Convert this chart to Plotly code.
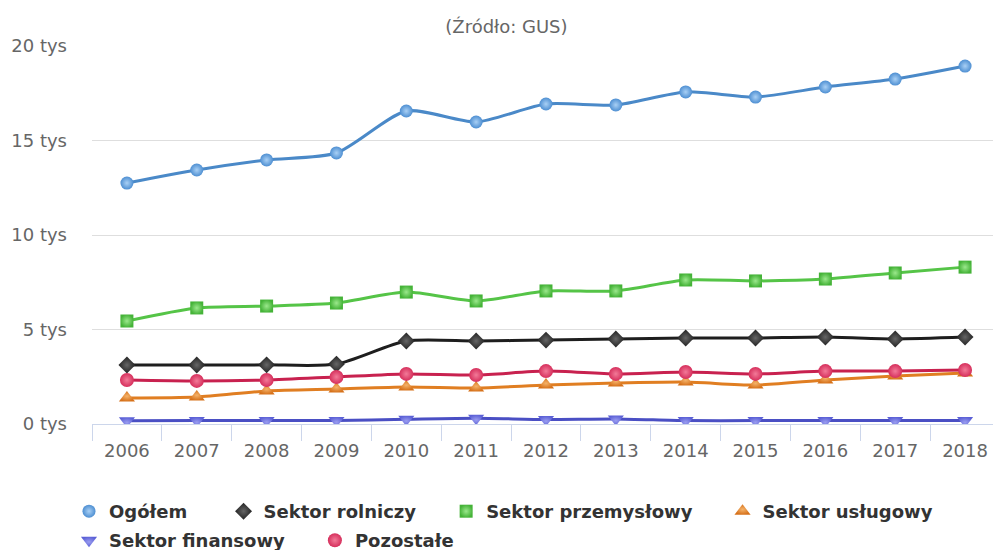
import plotly.graph_objects as go

years = ["2006", "2007", "2008", "2009", "2010", "2011", "2012",
         "2013", "2014", "2015", "2016", "2017", "2018"]

ogolem =      [12750, 13440, 13970, 14340, 16560, 15980, 16930, 16880, 17570, 17300, 17830, 18250, 18940]
rolniczy =    [3120, 3120, 3130, 3170, 4390, 4390, 4440, 4500, 4550, 4550, 4600, 4500, 4600]
przemyslowy = [5450, 6140, 6240, 6400, 6980, 6510, 7040, 7040, 7620, 7570, 7670, 7990, 8300]
uslugowy =    [1380, 1430, 1750, 1850, 1960, 1900, 2060, 2170, 2220, 2060, 2330, 2540, 2700]
finansowy =   [170, 180, 190, 190, 250, 300, 240, 270, 180, 180, 180, 180, 180]
pozostale =   [2330, 2280, 2330, 2490, 2650, 2590, 2800, 2650, 2750, 2650, 2800, 2800, 2860]

y_ticks = [0, 5000, 10000, 15000, 20000]
y_labels = ["0 tys", "5 tys", "10 tys", "15 tys", "20 tys"]

sp = "\u00a0"

# name, values, line colour, marker colour, highlight, symbol, size, legend
series = [
    ("Ogółem" + sp * 5, ogolem, "#4a89c8", "#4e8fd2", "#a9d0f5", "circle", 13, "legend"),
    ("Sektor rolniczy" + sp * 4, rolniczy, "#1e1e1e", "#222222", "#666666", "diamond", 13, "legend"),
    ("Sektor przemysłowy" + sp * 4, przemyslowy, "#55c447", "#45b338", "#9be88c", "square", 13, "legend"),
    ("Sektor usługowy", uslugowy, "#e07e22", "#d6711a", "#f5b36a", "triangle-up", 14, "legend"),
    ("Sektor finansowy" + sp * 4, finansowy, "#4a4fc4", "#5b60d6", "#9a9df0", "triangle-down", 14, "legend2"),
    ("Pozostałe", pozostale, "#c8214f", "#d62f5c", "#f27a98", "circle", 14, "legend2"),
]

x = list(range(len(years)))

fig = go.Figure()
for name, vals, lc, mc, gc, sym, sz, lg in series:
    fig.add_trace(go.Scatter(
        x=x, y=vals, name=name, mode="lines", legendgroup=name, showlegend=False,
        line=dict(color=lc, width=3, shape="spline", smoothing=0.7),
        hoverinfo="skip",
    ))
for name, vals, lc, mc, gc, sym, sz, lg in series:
    fig.add_trace(go.Scatter(
        x=x, y=vals, name=name, mode="markers", legendgroup=name, legend=lg,
        marker=dict(symbol=sym, size=sz, color=mc, line=dict(width=0),
                    gradient=dict(type="radial", color=gc)),
    ))

legend_font = dict(size=18, color="#333333", family="DejaVu Sans", weight="bold")

fig.update_layout(
    width=993, height=550,
    margin=dict(l=92, r=0, t=46, b=126, autoexpand=False),
    paper_bgcolor="white", plot_bgcolor="white",
    font=dict(family="DejaVu Sans", size=18, color="#666666"),
    title=dict(text="(Źródło: GUS)", x=0.51, xanchor="center",
               y=1 - 27 / 550, yanchor="middle", yref="container",
               font=dict(size=18, color="#666666")),
    showlegend=True,
    legend=dict(orientation="h", xref="container", yref="container",
                x=69 / 993, xanchor="left", y=1 - 493 / 550, yanchor="top",
                font=legend_font, bgcolor="rgba(0,0,0,0)"),
    legend2=dict(orientation="h", xref="container", yref="container",
                 x=69 / 993, xanchor="left", y=1 - 522 / 550, yanchor="top",
                 font=legend_font, bgcolor="rgba(0,0,0,0)"),
    xaxis=dict(
        range=[-0.5, 12.4], tickmode="array", tickvals=x, ticktext=years,
        ticks="outside", ticklen=10, tickcolor="rgba(0,0,0,0)",
        showgrid=False, zeroline=False, automargin=False,
        showline=True, linecolor="#ccd6eb", linewidth=1,
        minor=dict(tickmode="array", tickvals=[i - 0.5 for i in range(len(years) + 1)],
                   ticks="outside", ticklen=16, tickcolor="#ccd6eb", tickwidth=1, showgrid=False),
        fixedrange=True,
    ),
    yaxis=dict(
        range=[0, 20000], tickmode="array", tickvals=y_ticks, ticktext=y_labels,
        showgrid=True, gridcolor="#dedede", gridwidth=1, zeroline=False,
        ticklabelstandoff=24, showline=False, fixedrange=True, automargin=False,
    ),
)

fig.write_html(
    "out.html",
    config={"displayModeBar": False},
    post_script="document.body.style.margin='0';document.body.style.padding='0';document.body.style.overflow='hidden';",
)
